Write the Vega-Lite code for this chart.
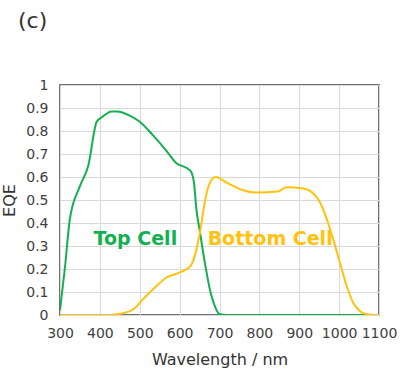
{
  "$schema": "https://vega.github.io/schema/vega-lite/v6.json",
  "width": 319,
  "height": 230,
  "autosize": {"type": "none"},
  "padding": {"left": 60, "top": 85, "right": 26, "bottom": 54},
  "background": "white",
  "title": {
    "text": "(c)",
    "anchor": "start",
    "frame": "group",
    "dx": -42,
    "offset": 45,
    "fontSize": 22,
    "font": "DejaVu Sans",
    "fontWeight": "normal",
    "color": "#333333"
  },
  "config": {
    "view": {"stroke": "#404040", "strokeWidth": 1.5},
    "axis": {
      "grid": true,
      "gridColor": "#d9d9d9",
      "gridWidth": 1,
      "domain": false,
      "ticks": false,
      "labelFont": "DejaVu Sans",
      "labelFontSize": 14,
      "labelColor": "#404040",
      "labelOverlap": false,
      "labelFlush": false,
      "titleFont": "DejaVu Sans",
      "titleFontSize": 16,
      "titleFontWeight": "normal",
      "titleColor": "#333333"
    }
  },
  "datasets": {
    "curves": [
      {"series": "Top Cell", "wl": 300, "eqe": 0.02},
      {"series": "Top Cell", "wl": 312, "eqe": 0.2},
      {"series": "Top Cell", "wl": 325, "eqe": 0.42},
      {"series": "Top Cell", "wl": 350, "eqe": 0.56},
      {"series": "Top Cell", "wl": 371, "eqe": 0.65},
      {"series": "Top Cell", "wl": 392, "eqe": 0.84},
      {"series": "Top Cell", "wl": 405, "eqe": 0.86},
      {"series": "Top Cell", "wl": 430, "eqe": 0.885},
      {"series": "Top Cell", "wl": 442, "eqe": 0.885},
      {"series": "Top Cell", "wl": 476, "eqe": 0.866},
      {"series": "Top Cell", "wl": 500, "eqe": 0.84},
      {"series": "Top Cell", "wl": 534, "eqe": 0.78},
      {"series": "Top Cell", "wl": 567, "eqe": 0.714},
      {"series": "Top Cell", "wl": 592, "eqe": 0.66},
      {"series": "Top Cell", "wl": 617, "eqe": 0.64},
      {"series": "Top Cell", "wl": 628, "eqe": 0.625},
      {"series": "Top Cell", "wl": 636, "eqe": 0.575},
      {"series": "Top Cell", "wl": 642, "eqe": 0.46},
      {"series": "Top Cell", "wl": 651, "eqe": 0.36},
      {"series": "Top Cell", "wl": 663, "eqe": 0.23},
      {"series": "Top Cell", "wl": 676, "eqe": 0.11},
      {"series": "Top Cell", "wl": 688, "eqe": 0.04},
      {"series": "Top Cell", "wl": 701, "eqe": 0.003},
      {"series": "Top Cell", "wl": 720, "eqe": 0},
      {"series": "Top Cell", "wl": 1100, "eqe": 0},
      {"series": "Bottom Cell", "wl": 300, "eqe": 0},
      {"series": "Bottom Cell", "wl": 426, "eqe": 0},
      {"series": "Bottom Cell", "wl": 451, "eqe": 0.005},
      {"series": "Bottom Cell", "wl": 484, "eqe": 0.025},
      {"series": "Bottom Cell", "wl": 509, "eqe": 0.07},
      {"series": "Bottom Cell", "wl": 542, "eqe": 0.126},
      {"series": "Bottom Cell", "wl": 567, "eqe": 0.163},
      {"series": "Bottom Cell", "wl": 601, "eqe": 0.185},
      {"series": "Bottom Cell", "wl": 626, "eqe": 0.21},
      {"series": "Bottom Cell", "wl": 638, "eqe": 0.257},
      {"series": "Bottom Cell", "wl": 651, "eqe": 0.36},
      {"series": "Bottom Cell", "wl": 663, "eqe": 0.49},
      {"series": "Bottom Cell", "wl": 676, "eqe": 0.576},
      {"series": "Bottom Cell", "wl": 690, "eqe": 0.6},
      {"series": "Bottom Cell", "wl": 718, "eqe": 0.576},
      {"series": "Bottom Cell", "wl": 751, "eqe": 0.547},
      {"series": "Bottom Cell", "wl": 793, "eqe": 0.533},
      {"series": "Bottom Cell", "wl": 847, "eqe": 0.537},
      {"series": "Bottom Cell", "wl": 868, "eqe": 0.555},
      {"series": "Bottom Cell", "wl": 910, "eqe": 0.55},
      {"series": "Bottom Cell", "wl": 927, "eqe": 0.54},
      {"series": "Bottom Cell", "wl": 952, "eqe": 0.49},
      {"series": "Bottom Cell", "wl": 969, "eqe": 0.417},
      {"series": "Bottom Cell", "wl": 985, "eqe": 0.33},
      {"series": "Bottom Cell", "wl": 1002, "eqe": 0.228},
      {"series": "Bottom Cell", "wl": 1019, "eqe": 0.126},
      {"series": "Bottom Cell", "wl": 1035, "eqe": 0.054},
      {"series": "Bottom Cell", "wl": 1052, "eqe": 0.017},
      {"series": "Bottom Cell", "wl": 1069, "eqe": 0.003},
      {"series": "Bottom Cell", "wl": 1090, "eqe": 0},
      {"series": "Bottom Cell", "wl": 1100, "eqe": 0}
    ],
    "labels": [
      {"series": "Top Cell", "wl": 489, "eqe": 0.33},
      {"series": "Bottom Cell", "wl": 827, "eqe": 0.33}
    ]
  },
  "encoding": {
    "x": {
      "field": "wl",
      "type": "quantitative",
      "scale": {"domain": [300, 1100], "nice": false, "zero": false},
      "axis": {
        "title": "Wavelength / nm",
        "values": [300, 400, 500, 600, 700, 800, 900, 1000, 1100],
        "format": "d",
        "labelPadding": 11,
        "titlePadding": 11
      }
    },
    "y": {
      "field": "eqe",
      "type": "quantitative",
      "scale": {"domain": [0, 1], "nice": false},
      "axis": {
        "title": "EQE",
        "values": [0, 0.1, 0.2, 0.3, 0.4, 0.5, 0.6, 0.7, 0.8, 0.9, 1],
        "format": "~g",
        "labelPadding": 12,
        "titlePadding": 8
      }
    },
    "color": {
      "field": "series",
      "type": "nominal",
      "scale": {"domain": ["Top Cell", "Bottom Cell"], "range": ["#12b04f", "#ffc20e"]},
      "legend": null
    }
  },
  "layer": [
    {
      "data": {"name": "curves"},
      "mark": {"type": "line", "interpolate": "monotone", "strokeWidth": 2, "clip": true},
      "encoding": {"detail": {"field": "series"}}
    },
    {
      "data": {"name": "labels"},
      "mark": {"type": "text", "fontSize": 19, "fontWeight": "bold", "font": "DejaVu Sans", "align": "center", "baseline": "middle"},
      "encoding": {"text": {"field": "series"}}
    }
  ]
}
